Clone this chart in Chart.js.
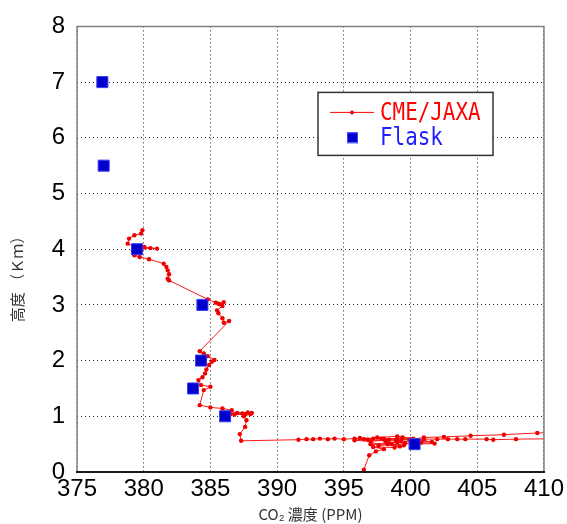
<!DOCTYPE html>
<html>
<head>
<meta charset="utf-8">
<script src="https://cdn.jsdelivr.net/npm/chart.js@4"></script>
<style>
  html, body { margin: 0; padding: 0; background: #fff; }
  #wrap { width: 567px; height: 524px; position: relative; }
</style>
</head>
<body>
<div id="wrap"><canvas id="c"></canvas></div>
<script>
// valeurs (x = CO2 ppm, y = altitude km)
const cmeX = [396.5, 396.9, 397.4, 398.0, 397.2, 398.8, 399.5, 398.3, 397.0, 399.0,
  400.3, 401.8, 400.8, 399.3, 398.1, 396.8,
  397.6, 398.6, 399.2, 398.2, 399.6, 398.9,
  397.8, 396.2, 395.8, 397.0, 398.4, 399.4, 400.6, 401.6, 400.2, 399.0,
  397.5, 398.0, 399.9, 401.0, 402.5, 404.5, 407.0, 409.5, 412.0, 412.0,
  407.9, 406.2, 405.7, 404.1, 403.5, 402.8, 402.0, 401.0, 400.0, 399.0,
  398.0, 397.2, 396.5, 395.8, 395.0, 394.3, 393.8, 393.2, 392.7, 392.2,
  391.6, 387.3, 387.2, 387.6, 387.7, 387.5, 388.0, 387.4, 386.8, 386.4,
  387.8, 388.1, 387.0, 386.5, 387.6, 386.0, 386.6, 385.9, 385.0, 384.2,
  384.5, 385.0, 384.3, 384.1,
  384.4, 384.6, 384.7, 384.9, 385.1, 385.3, 384.8, 384.5, 384.2, 386.4,
  386.0, 385.9, 385.6, 385.5, 385.9, 385.6, 386.0, 385.7, 385.4, 384.8,
  381.9, 381.8, 381.9,
  381.8, 381.7, 381.5, 380.4, 379.7, 379.3, 379.2, 379.8, 380.5, 381.0,
  380.05, 379.3, 378.8, 378.9, 379.3, 379.8, 379.9]
const cmeY = [0.04, 0.30, 0.37, 0.41, 0.45, 0.44, 0.48, 0.50, 0.50, 0.53,
  0.50, 0.51, 0.53, 0.56, 0.56, 0.58,
  0.47, 0.50, 0.46, 0.53, 0.52, 0.57,
  0.60, 0.61, 0.57, 0.55, 0.58, 0.62, 0.55, 0.54, 0.60, 0.64,
  0.62, 0.60, 0.58, 0.62, 0.63, 0.65, 0.67, 0.70, 0.72, 0.60,
  0.59, 0.58, 0.59, 0.59, 0.59, 0.59, 0.59, 0.59, 0.59, 0.60,
  0.59, 0.60, 0.59, 0.60, 0.59, 0.60, 0.59, 0.60, 0.59, 0.59,
  0.58, 0.56, 0.68, 0.81, 0.93, 1.00, 1.04, 1.05, 1.03, 1.06,
  1.07, 1.06, 1.06, 1.04, 1.03, 1.05, 1.11, 1.14, 1.16, 1.20,
  1.47, 1.53, 1.56, 1.65,
  1.70, 1.77, 1.84, 1.92, 1.98, 2.01, 2.08, 2.13, 2.17, 2.71,
  2.68, 2.76, 2.85, 2.90, 2.98, 3.02, 3.05, 3.01, 3.04, 3.10,
  3.44, 3.47, 3.55,
  3.62, 3.68, 3.74, 3.82, 3.86, 3.89, 3.98, 4.00, 4.02, 4.01,
  4.04, 4.04, 4.10, 4.19, 4.25, 4.28, 4.34]

const flaskX = [376.9, 377.0, 379.5, 384.4, 384.3, 383.7, 386.1, 400.3]
const flaskY = [7.0, 5.5, 4.0, 3.0, 2.0, 1.5, 1.0, 0.5]

const seriesNames = ['CME/JAXA', 'Flask']
const xTicks = [375, 380, 385, 390, 395, 400, 405, 410]
const yTicks = [0, 1, 2, 3, 4, 5, 6, 7, 8]

const cmeData = cmeX.map((x, i) => ({ x: x, y: cmeY[i] }))
const flaskData = flaskX.map((x, i) => ({ x: x, y: flaskY[i] }))

const tickFont = { family: '"Liberation Sans Narrow", "Liberation Sans", sans-serif', size: 24 }

// cadre autour de la zone + legende dessinee dans le graphique
const framePlugin = {
  id: 'frame',
  afterDraw(chart) {
    const ctx = chart.ctx
    const a = chart.chartArea
    ctx.save()
    ctx.setLineDash([])
    ctx.strokeStyle = '#808080'
    ctx.lineWidth = 1.5
    ctx.beginPath()
    ctx.moveTo(a.left, a.bottom)
    ctx.lineTo(a.left, a.top)
    ctx.lineTo(a.right, a.top)
    ctx.lineTo(a.right, a.bottom)
    ctx.stroke()
    ctx.strokeStyle = '#1a1a1a'
    ctx.lineWidth = 2
    ctx.beginPath()
    ctx.moveTo(a.left - 1, a.bottom)
    ctx.lineTo(a.right + 1, a.bottom)
    ctx.stroke()

    // legende
    const lx = a.left + 241, ly = a.top + 66, lw = 175, lh = 63
    ctx.fillStyle = '#fff'
    ctx.fillRect(lx, ly, lw, lh)
    ctx.strokeStyle = '#333'
    ctx.lineWidth = 1.5
    ctx.strokeRect(lx, ly, lw, lh)

    // echantillon CME/JAXA
    ctx.strokeStyle = '#ff0000'
    ctx.lineWidth = 1
    ctx.beginPath()
    ctx.moveTo(lx + 12, ly + 20)
    ctx.lineTo(lx + 56, ly + 20)
    ctx.stroke()
    ctx.fillStyle = '#ff0000'
    ctx.beginPath()
    ctx.arc(lx + 34, ly + 20, 2, 0, Math.PI * 2)
    ctx.fill()

    // echantillon Flask
    ctx.fillStyle = '#0000cc'
    ctx.fillRect(lx + 29, ly + 40, 10, 10)
    ctx.strokeStyle = '#4040ff'
    ctx.lineWidth = 1
    ctx.strokeRect(lx + 29.5, ly + 40.5, 10, 10)

    ctx.font = '24px "DejaVu Sans Mono", monospace'
    ctx.textBaseline = 'middle'
    const labels = [[seriesNames[0], '#ff0000', ly + 20], [seriesNames[1], '#2020ff', ly + 45]]
    labels.forEach(([txt, col, ty]) => {
      ctx.save()
      ctx.translate(lx + 62, ty)
      ctx.scale(0.87, 1)
      ctx.fillStyle = col
      ctx.fillText(txt, 0, 1)
      ctx.restore()
    })
    ctx.restore()
  }
}

new Chart(document.getElementById('c'), {
  type: 'scatter',
  data: {
    datasets: [
      {
        label: seriesNames[1],
        data: flaskData,
        order: 0,
        pointStyle: 'rect',
        pointRadius: 7.8,
        pointHoverRadius: 7.8,
        backgroundColor: '#0000cc',
        borderColor: '#3a3aee',
        borderWidth: 1
      },
      {
        label: seriesNames[0],
        data: cmeData,
        order: 1,
        showLine: true,
        borderColor: '#ff1a1a',
        borderWidth: 1,
        pointRadius: 2.2,
        pointBorderWidth: 0,
        pointBackgroundColor: '#ee0000'
      }
    ]
  },
  options: {
    responsive: true,
    maintainAspectRatio: false,
    animation: false,
    layout: { padding: { top: 26, right: 19, left: 0, bottom: 0 } },
    plugins: {
      legend: { display: false },
      tooltip: { enabled: false }
    },
    scales: {
      x: {
        type: 'linear',
        min: 375,
        max: 410,
        afterFit(scale) { scale.height = 52 },
        afterBuildTicks(scale) { scale.ticks = xTicks.map(v => ({ value: v })) },
        ticks: { color: '#000', font: tickFont, padding: 3, maxRotation: 0 },
        grid: { color: '#222', drawTicks: false, lineWidth: 1 },
        border: { display: false, dash: [1, 3] },
        title: {
          display: true,
          text: 'CO₂ 濃度 (PPM)',
          color: '#333',
          font: { family: '"Noto Sans CJK JP", sans-serif', size: 15 },
          padding: { top: 0, bottom: 1 }
        }
      },
      y: {
        type: 'linear',
        min: 0,
        max: 8,
        afterFit(scale) { scale.width = 77 },
        afterBuildTicks(scale) { scale.ticks = yTicks.map(v => ({ value: v })) },
        ticks: { color: '#000', font: tickFont, padding: 12 },
        grid: { color: '#222', drawTicks: false, lineWidth: 1 },
        border: { display: false, dash: [1, 3] },
        title: {
          display: true,
          text: '高度 （Ｋｍ）　　　　',
          color: '#333',
          font: { family: '"Noto Sans CJK JP", sans-serif', size: 15 },
          padding: { top: 8, bottom: 0 }
        }
      }
    }
  },
  plugins: [framePlugin]
})
</script>
</body>
</html>
